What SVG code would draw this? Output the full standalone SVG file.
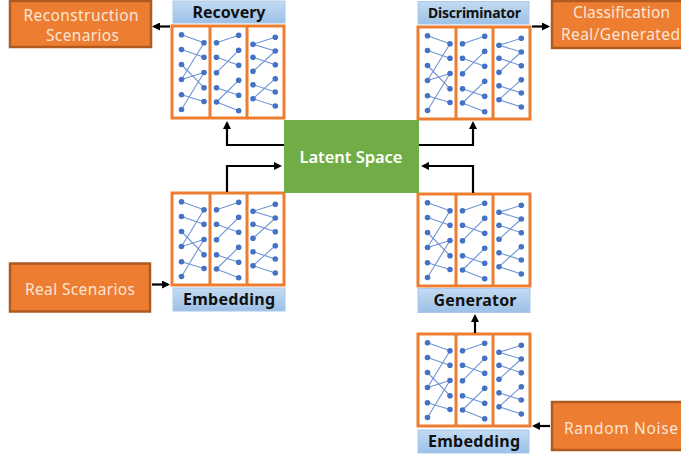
<svg xmlns="http://www.w3.org/2000/svg" xmlns:xlink="http://www.w3.org/1999/xlink" width="681" height="459" viewBox="0 0 681 459">
<style>
.box{fill:#ED7D31;stroke:#AE5A21;stroke-width:2.5}
.boxt{font-family:"Noto Sans","Open Sans","Liberation Sans",sans-serif;font-size:15.5px;fill:#FBE5D6;text-anchor:middle}
.lab{fill:url(#lg);stroke:#A9C9EC;stroke-width:1}
.labt{font-family:"Noto Sans","Open Sans","Liberation Sans",sans-serif;font-size:16px;font-weight:bold;fill:#111;text-anchor:middle}
.frame{fill:#fff;stroke:#ED7D31;stroke-width:3}
.div{stroke:#ED7D31;stroke-width:3}
.ed{stroke:#6E94D5;stroke-width:1.1;fill:none}
.nd{fill:#4472C4}
.arr{fill:none;stroke:#000;stroke-width:2.2}
</style>
<defs>
<linearGradient id="lg" x1="0" y1="0" x2="0" y2="1">
<stop offset="0" stop-color="#C4DBF2"/>
<stop offset="1" stop-color="#9BC0E7"/>
</linearGradient>
<marker id="ah" markerWidth="8" markerHeight="8" refX="6" refY="4" orient="auto" markerUnits="userSpaceOnUse">
<path d="M0,0 L8,4 L0,8 z" fill="#000"/>
</marker>
<g id="net">
<rect class="frame" x="0" y="0" width="112" height="92"/>
<line class="div" x1="38" y1="0" x2="38" y2="92"/>
<line class="div" x1="75" y1="0" x2="75" y2="92"/>
<g class="ed">
<path d="M9.5,8.7 L32,16.7 M9.5,23.5 L32,31.3 M32,16.7 L9.5,53.5 M9.5,38.5 L32,61.7 M9.5,53.5 L32,46.5 M32,46.5 L9.5,83.5 M9.5,68.7 L32,75.5"/>
<path d="M44.5,16.7 L66.7,9.3 M44.5,31.3 L66.7,39.3 M66.7,24.3 L44.5,46.7 M44.5,61.7 L66.7,69.3 M66.7,54.3 L44.5,76 M44.5,76 L66.7,84.7"/>
<path d="M81,18.3 L103.3,11.3 M81,18.3 L103.3,25 M81,31.3 L103.3,38.7 M103.3,25 L81,45.3 M81,58.7 L103.3,66 M103.3,52.7 L81,72.7 M81,72.7 L103.3,80"/>
</g>
<g class="nd">
<circle cx="9.5" cy="8.7" r="2.8"/><circle cx="9.5" cy="23.5" r="2.8"/><circle cx="9.5" cy="38.5" r="2.8"/><circle cx="9.5" cy="53.5" r="2.8"/><circle cx="9.5" cy="68.7" r="2.8"/><circle cx="9.5" cy="83.5" r="2.8"/>
<circle cx="32" cy="16.7" r="2.8"/><circle cx="32" cy="31.3" r="2.8"/><circle cx="32" cy="46.5" r="2.8"/><circle cx="32" cy="61.7" r="2.8"/><circle cx="32" cy="75.5" r="2.8"/>
<circle cx="44.5" cy="16.7" r="2.8"/><circle cx="44.5" cy="31.3" r="2.8"/><circle cx="44.5" cy="46.7" r="2.8"/><circle cx="44.5" cy="61.7" r="2.8"/><circle cx="44.5" cy="76" r="2.8"/>
<circle cx="66.7" cy="9.3" r="2.8"/><circle cx="66.7" cy="24.3" r="2.8"/><circle cx="66.7" cy="39.3" r="2.8"/><circle cx="66.7" cy="54.3" r="2.8"/><circle cx="66.7" cy="69.3" r="2.8"/><circle cx="66.7" cy="84.7" r="2.8"/>
<circle cx="81" cy="18.3" r="2.8"/><circle cx="81" cy="31.3" r="2.8"/><circle cx="81" cy="45.3" r="2.8"/><circle cx="81" cy="58.7" r="2.8"/><circle cx="81" cy="72.7" r="2.8"/>
<circle cx="103.3" cy="11.3" r="2.8"/><circle cx="103.3" cy="25" r="2.8"/><circle cx="103.3" cy="38.7" r="2.8"/><circle cx="103.3" cy="52.7" r="2.8"/><circle cx="103.3" cy="66" r="2.8"/><circle cx="103.3" cy="80" r="2.8"/>
</g>
</g>
</defs>
<rect width="681" height="459" fill="#fff"/>

<g id="reconstruction">
<rect class="box" x="10" y="1" width="141" height="46"/>
<text class="boxt" x="81" y="20.5" textLength="115">Reconstruction</text>
<text class="boxt" x="82.5" y="41" textLength="73">Scenarios</text>
</g>
<g id="classification">
<rect class="box" x="552" y="1" width="140" height="47"/>
<text class="boxt" x="621.5" y="18" textLength="97">Classification</text>
<text class="boxt" x="620.5" y="39.5" textLength="119">Real/Generated</text>
</g>
<g id="real-scenarios">
<rect class="box" x="10" y="263.5" width="140" height="48"/>
<text class="boxt" x="80" y="295" textLength="110">Real Scenarios</text>
</g>
<g id="random-noise">
<rect class="box" x="552" y="402" width="140" height="48"/>
<text class="boxt" x="621" y="433.5" textLength="114">Random Noise</text>
</g>

<g id="recovery">
<rect class="lab" x="173" y="1" width="112" height="22"/>
<text class="labt" x="229" y="18" textLength="73">Recovery</text>
<use xlink:href="#net" x="172" y="26"/>
</g>
<g id="discriminator">
<rect class="lab" x="418" y="1.5" width="111" height="22.5"/>
<text class="labt" x="474.5" y="18" textLength="93" style="font-size:14px">Discriminator</text>
<use xlink:href="#net" x="418" y="27"/>
</g>
<g id="embedding-real">
<use xlink:href="#net" x="172" y="193"/>
<rect class="lab" x="173" y="288" width="112" height="23"/>
<text class="labt" x="229" y="305" textLength="92">Embedding</text>
</g>
<g id="generator">
<use xlink:href="#net" x="418" y="194"/>
<rect class="lab" x="418" y="288.5" width="112" height="24"/>
<text class="labt" x="475" y="306" textLength="83">Generator</text>
</g>
<g id="embedding-noise">
<use xlink:href="#net" x="418" y="334"/>
<rect class="lab" x="418" y="430" width="111" height="23"/>
<text class="labt" x="474" y="447" textLength="92">Embedding</text>
</g>
<g id="latent-space">
<rect x="284" y="120" width="135" height="73" fill="#70AD47"/>
<text x="351" y="163" textLength="103" style="font-family:'Noto Sans','Open Sans','Liberation Sans',sans-serif;font-size:16.5px;font-weight:600;fill:#fff;text-anchor:middle">Latent Space</text>
</g>

<g id="connectors">
<path class="arr" d="M170,26.5 L154,26.5" marker-end="url(#ah)"/>
<path class="arr" d="M532,26.5 L548,26.5" marker-end="url(#ah)"/>
<path class="arr" d="M152,284.5 L168,284.5" marker-end="url(#ah)"/>
<path class="arr" d="M550,426 L534,426" marker-end="url(#ah)"/>
<path class="arr" d="M284,145 L227,145 L227,123" marker-end="url(#ah)"/>
<path class="arr" d="M227,192 L227,166 L280,166" marker-end="url(#ah)"/>
<path class="arr" d="M419,145 L473,145 L473,123" marker-end="url(#ah)"/>
<path class="arr" d="M473,193 L473,166 L423,166" marker-end="url(#ah)"/>
<path class="arr" d="M475,333 L475,316" marker-end="url(#ah)"/>
</g>
</svg>
